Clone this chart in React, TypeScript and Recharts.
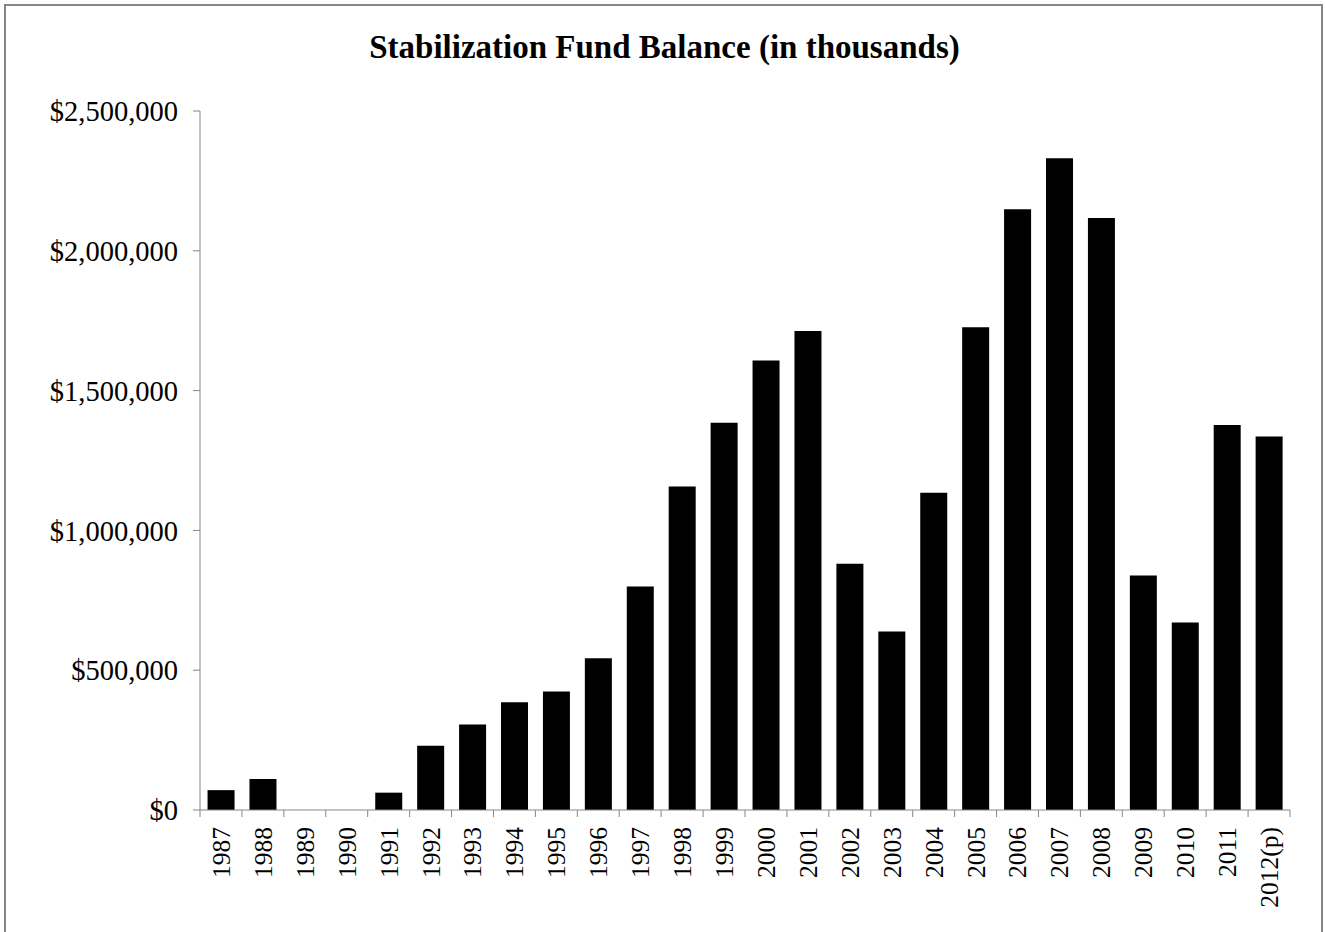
import { BarChart, Bar, XAxis, YAxis } from 'recharts'

// fiscal years, last one is projected
const years = [
  '1987', '1988', '1989', '1990', '1991', '1992', '1993', '1994', '1995',
  '1996', '1997', '1998', '1999', '2000', '2001', '2002', '2003', '2004',
  '2005', '2006', '2007', '2008', '2009', '2010', '2011', '2012(p)',
]

// balance in thousands of dollars
const balances = [
  71000, 111000, 0, 0, 62000, 230000, 306000, 385000, 424000,
  543000, 799000, 1157000, 1385000, 1608000, 1713000, 881000, 638000, 1135000,
  1727000, 2149000, 2331000, 2117000, 839000, 671000, 1377000, 1336000,
]

const yTicks = [0, 500000, 1000000, 1500000, 2000000, 2500000]

const data = years.map((year, i) => ({ year, balance: balances[i] }))

const FONT = '"Liberation Serif", "Times New Roman", serif'
const AXIS_GRAY = '#868686'

const formatDollars = (v: number) => `$${v.toLocaleString('en-US')}`

// category tick: tick mark at the band boundary, label rotated up
function YearTick(props: any) {
  const { x, y, payload, index } = props
  const half = payload.offset || 0
  const isLast = index === years.length - 1
  return (
    <g>
      <line x1={x - half} x2={x - half} y1={y} y2={y + 7} stroke={AXIS_GRAY} />
      {isLast && (
        <line x1={x + half} x2={x + half} y1={y} y2={y + 7} stroke={AXIS_GRAY} />
      )}
      <text
        transform={`translate(${x},${y + 17}) rotate(-90)`}
        textAnchor="end"
        dy="0.35em"
        fontFamily={FONT}
        fontSize={25.5}
        fill="#000"
      >
        {payload.value}
      </text>
    </g>
  )
}

export default function App() {
  return (
    <div
      style={{
        position: 'absolute',
        left: 0,
        top: 0,
        width: 1325,
        height: 932,
        overflow: 'hidden',
        background: '#fff',
      }}
    >
      {/* outer frame */}
      <div
        style={{
          position: 'absolute',
          left: 4,
          top: 4,
          width: 1315,
          height: 960,
          border: `2px solid ${AXIS_GRAY}`,
        }}
      />
      <div
        style={{
          position: 'absolute',
          left: 0,
          width: 1329,
          top: 29,
          textAlign: 'center',
          fontFamily: FONT,
          fontWeight: 'bold',
          fontSize: 33,
          lineHeight: '36px',
          color: '#000',
        }}
      >
        Stabilization Fund Balance (in thousands)
      </div>
      <div style={{ position: 'absolute', left: 0, top: 0 }}>
        <BarChart
          width={1325}
          height={932}
          data={data}
          margin={{ top: 111, right: 35, left: 0, bottom: 0 }}
          barCategoryGap="18%"
        >
          <XAxis
            dataKey="year"
            height={122}
            interval={0}
            tickLine={false}
            tickSize={0}
            tickMargin={0}
            axisLine={{ stroke: AXIS_GRAY }}
            tick={<YearTick />}
          />
          <YAxis
            width={200}
            domain={[0, 2500000]}
            ticks={yTicks}
            interval={0}
            tickFormatter={formatDollars}
            tickSize={7}
            tickMargin={15}
            axisLine={{ stroke: AXIS_GRAY }}
            tickLine={{ stroke: AXIS_GRAY }}
            tick={{ fontFamily: FONT, fontSize: 28.5, fill: '#000' }}
          />
          <Bar dataKey="balance" fill="#000" isAnimationActive={false} />
        </BarChart>
      </div>
    </div>
  )
}
